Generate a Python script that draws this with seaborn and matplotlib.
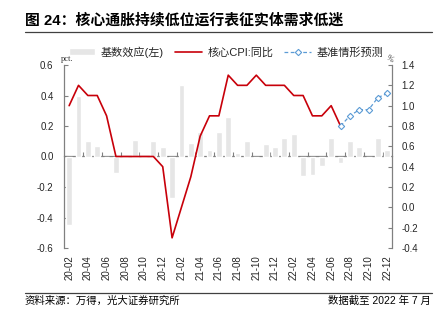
import numpy as np
import pandas as pd
import matplotlib
matplotlib.use("Agg")
import matplotlib.pyplot as plt
from matplotlib.lines import Line2D
from matplotlib.ticker import FormatStrFormatter
import seaborn as sns

# Monthly categories on the x axis
months = [
    "20-02", "20-03", "20-04", "20-05", "20-06", "20-07", "20-08", "20-09",
    "20-10", "20-11", "20-12", "21-01", "21-02", "21-03", "21-04", "21-05",
    "21-06", "21-07", "21-08", "21-09", "21-10", "21-11", "21-12", "22-01",
    "22-02", "22-03", "22-04", "22-05", "22-06", "22-07", "22-08", "22-09",
    "22-10", "22-11", "22-12",
]

# Base effect, pct. (left axis)
base_effect = [
    -0.45, 0.40, 0.10, 0.07, 0.00, -0.11, 0.00, 0.11,
    0.00, 0.10, 0.06, -0.27, 0.47, 0.09, 0.16, 0.04,
    0.16, 0.26, 0.02, 0.10, 0.00, 0.08, 0.06, 0.12,
    0.15, -0.13, -0.12, -0.06, 0.12, -0.04, 0.10, 0.06,
    0.00, 0.12, 0.04,
]

# Core CPI, y/y % (right axis), 20-02 .. 22-07
core_cpi = [
    1.0, 1.2, 1.1, 1.1, 0.9, 0.5, 0.5, 0.5, 0.5, 0.5, 0.4, -0.3,
    0.0, 0.3, 0.7, 0.9, 0.9, 1.3, 1.2, 1.2, 1.3, 1.2, 1.2, 1.2,
    1.1, 1.1, 0.9, 0.9, 1.0, 0.8,
]

# Baseline scenario forecast, 22-07 .. 22-12
forecast_months = ["22-07", "22-08", "22-09", "22-10", "22-11", "22-12"]
forecast = [0.80, 0.90, 0.96, 0.96, 1.08, 1.12]

tick_months = months[::2]

sns.set_theme(style="white")
plt.rcParams["font.family"] = ["Liberation Sans", "Noto Sans CJK SC", "DejaVu Sans"]
plt.rcParams["axes.unicode_minus"] = False

W, H = 441, 323
fig = plt.figure(figsize=(W / 100, H / 100), dpi=100)
ax = fig.add_axes([64 / W, 1 - 248 / H, (392 - 64) / W, (248 - 65) / H])

grey_axis = "#808080"
red = "#c8000a"
blue = "#5b9bd5"

df_bar = pd.DataFrame({"month": months, "value": base_effect})
sns.barplot(data=df_bar, x="month", y="value", color="#e6e6e6", saturation=1,
            width=0.62, ax=ax, label="基数效应(左)", zorder=1)
if ax.get_legend() is not None:
    ax.get_legend().remove()

ax.set_xlim(-0.55, len(months) - 0.5)
ax.set_ylim(-0.6, 0.6)
ax.set_yticks(np.arange(-0.6, 0.61, 0.2))
ax.yaxis.set_major_formatter(FormatStrFormatter("%.1f"))
ax.set_xticks([months.index(m) for m in tick_months])
ax.set_xticklabels(tick_months, rotation=90)
ax.set_xlabel("")
ax.set_ylabel("")
for s in ("top", "right", "bottom"):
    ax.spines[s].set_visible(False)
ax.spines["left"].set_color(grey_axis)
ax.spines["left"].set_linewidth(0.9)
ax.tick_params(axis="y", direction="in", length=3, width=0.8, color=grey_axis,
               labelsize=7, pad=7.5, left=True)
ax.tick_params(axis="x", length=0, labelsize=7, pad=5)

# Zero line with category ticks every two months
zero_axis = ax.secondary_xaxis(0, transform=ax.transData)
zero_axis.set_xticks(np.arange(1.5, len(months) - 1, 2))
zero_axis.tick_params(direction="in", length=3, width=0.8, color=grey_axis,
                      labelbottom=False)
zero_axis.spines["bottom"].set_color(grey_axis)
zero_axis.spines["bottom"].set_linewidth(0.9)

ax2 = ax.twinx()
x_core = np.array([months.index(m) for m in months[:len(core_cpi)]])
x_fc = np.array([months.index(m) for m in forecast_months])
sns.lineplot(x=x_core, y=core_cpi, ax=ax2, color=red, linewidth=1.2,
             label="核心CPI:同比", legend=False)
sns.lineplot(x=x_fc, y=forecast, ax=ax2, color=blue, linewidth=0.9,
             linestyle=(0, (3, 2)), marker="D", markersize=3.2,
             markerfacecolor="white", markeredgecolor=blue, markeredgewidth=0.8,
             label="基准情形预测", legend=False)
if ax2.get_legend() is not None:
    ax2.get_legend().remove()
ax2.set_ylim(-0.4, 1.4)
ax2.set_yticks(np.arange(-0.4, 1.41, 0.2))
ax2.yaxis.set_major_formatter(FormatStrFormatter("%.1f"))
ax2.set_ylabel("")
for s in ("top", "left", "bottom"):
    ax2.spines[s].set_visible(False)
ax2.spines["right"].set_color(grey_axis)
ax2.spines["right"].set_linewidth(0.9)
ax2.tick_params(axis="y", direction="in", length=3, width=0.8, color=grey_axis,
                labelsize=7, pad=7, right=True)

# Unit labels
fig.text(67 / W, 1 - 59 / H, "pct.", family="Liberation Serif", fontsize=6,
         ha="center", va="center", color="#333333")
fig.text(390 / W, 1 - 59 / H, "%", family="Liberation Serif", fontsize=6,
         ha="center", va="center", color="#333333", rotation=-30)

# Legend
h1, l1 = ax.get_legend_handles_labels()
h2, l2 = ax2.get_legend_handles_labels()
fig.legend(h1 + h2, l1 + l2, ncol=3, loc="center",
           bbox_to_anchor=(226 / W, 1 - 52 / H), frameon=False, fontsize=8,
           handlelength=2.4, handleheight=0.6, handletextpad=0.5,
           columnspacing=1.0, borderaxespad=0)

# Title and footer
fig.text(25 / W, 1 - 20 / H, "图 24：核心通胀持续低位运行表征实体需求低迷",
         fontsize=10.7, fontweight="bold", ha="left", va="center", color="#000000")
fig.add_artist(Line2D([25 / W, 432 / W], [1 - 32 / H, 1 - 32 / H],
                      transform=fig.transFigure, color="#404040", linewidth=0.9))
fig.add_artist(Line2D([25 / W, 432 / W], [1 - 293 / H, 1 - 293 / H],
                      transform=fig.transFigure, color="#404040", linewidth=0.9))
fig.text(25 / W, 1 - 301 / H, "资料来源：万得，光大证券研究所", fontsize=7.5,
         ha="left", va="center", color="#000000")
fig.text(431 / W, 1 - 301 / H, "数据截至 2022 年 7 月", fontsize=7.5,
         ha="right", va="center", color="#000000")

fig.savefig("out.png", dpi=100, facecolor="white")
